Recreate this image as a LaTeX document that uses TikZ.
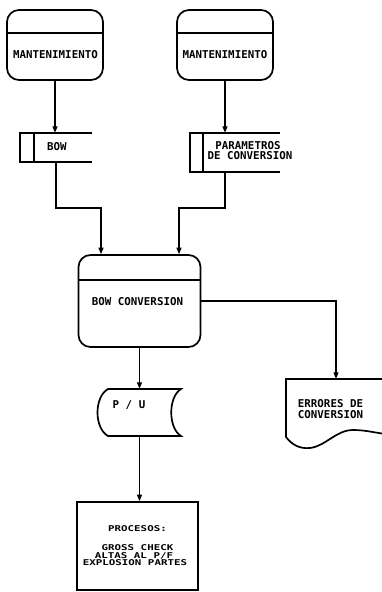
\documentclass[tikz,border=0pt]{standalone}
\usepackage{fontspec}
\usetikzlibrary{arrows.meta}
\newfontfamily\dfont{DejaVu Sans Mono Bold}
\newfontfamily\pfont{DejaVu Sans Mono Bold}[FakeStretch=1.35]
\begin{document}
\begin{tikzpicture}[x=1pt,y=-1pt,
  outl/.style={draw, line width=1.7pt},
  procbox/.style={outl, rounded corners=12pt, inner sep=0pt},
  blank/.style={inner sep=0pt},
  conn/.style={line width=1.2pt},
  arr/.style={conn, -{Triangle[length=6.5pt,width=5pt]}},
  lbl/.style={font=\dfont\fontsize{10.8}{12}\selectfont, inner sep=0pt, anchor=base},
  plbl/.style={font=\pfont\fontsize{8}{9}\selectfont, inner sep=0pt, anchor=base}]
\useasboundingbox (0,0) rectangle (381,592);

% top processes
\node[procbox, minimum width=96pt, minimum height=70pt] (m1) at (55,45) {};
\node[procbox, minimum width=96pt, minimum height=70pt] (m2) at (225,45) {};
\draw[outl] (m1.west |- 0,33) -- (m1.east |- 0,33);
\draw[outl] (m2.west |- 0,33) -- (m2.east |- 0,33);
\node[lbl] (t1) at (55.5,58) {MANTENIMIENTO};
\node[lbl] (t2) at (225,58) {MANTENIMIENTO};

% data stores
\node[blank, minimum width=72pt, minimum height=29pt] (bow) at (56,147.5) {};
\draw[outl] (bow.north east) -- (bow.north west) -- (bow.south west) -- (bow.south east);
\draw[outl] ([xshift=14pt]bow.north west) -- ([xshift=14pt]bow.south west);
\node[lbl, anchor=base west] (t3) at (47,150) {BOW};

\node[blank, minimum width=90pt, minimum height=39pt] (par) at (235,152.5) {};
\draw[outl] (par.north east) -- (par.north west) -- (par.south west) -- (par.south east);
\draw[outl] ([xshift=13pt]par.north west) -- ([xshift=13pt]par.south west);
\node[lbl] (t4) at (248,149) {PARAMETROS};
\node[lbl] (t5) at (250,159) {DE CONVERSION};

% central process
\node[procbox, minimum width=122pt, minimum height=92pt] (conv) at (139.5,301) {};
\draw[outl] (conv.west |- 0,280) -- (conv.east |- 0,280);
\node[lbl] (t6) at (137.5,305) {BOW CONVERSION};

% P/U stored data
\node[blank, minimum width=84pt, minimum height=47pt] (pu) at (139.5,412.5) {};
\draw[outl] (108,389) -- (181,389) .. controls (168,397) and (168,428) .. (181,436)
  -- (108,436) .. controls (94,428) and (94,397) .. (108,389) -- cycle;
\node[lbl] (t7) at (129,408) {P / U};

% document
\node[blank, minimum width=100pt, minimum height=68pt] (err) at (336,413) {};
\draw[outl] (386,379) -- (286,379) -- (286,437) .. controls (292,445) and (300,449) .. (310,448)
  .. controls (326,446) and (336,430) .. (353,430) .. controls (366,430) and (376,433) .. (386,434);
\node[lbl] (t8) at (330.5,407) {ERRORES DE};
\node[lbl] (t9) at (330.5,418) {CONVERSION};

% procesos box
\node[outl, minimum width=121pt, minimum height=88pt, inner sep=0pt] (proc) at (137.5,546) {};
\node[plbl] (t10) at (137.5,531) {PROCESOS:};
\node[plbl] (t11) at (137.5,550.5) {GROSS CHECK};
\node[plbl] (t12) at (134,558) {ALTAS AL P/F};
\node[plbl] (t13) at (135,565.5) {EXPLOSION PARTES};

% connectors
\coordinate (j1) at (101,208);
\coordinate (j2) at (179,208);
\draw[arr] (m1.south) -- (m1.south |- bow.north);
\draw[arr] (m2.south) -- (m2.south |- par.north);
\draw[arr] (bow.south) |- (j1) -- (j1 |- conv.north);
\draw[arr] (m2.south |- par.south) |- (j2) -- (j2 |- conv.north);
\draw[arr] (conv.east) -| (err.north);
\draw[arr] (conv.south) -- (conv.south |- pu.north);
\draw[arr] (pu.south) -- (pu.south |- proc.north);
\end{tikzpicture}
\end{document}
